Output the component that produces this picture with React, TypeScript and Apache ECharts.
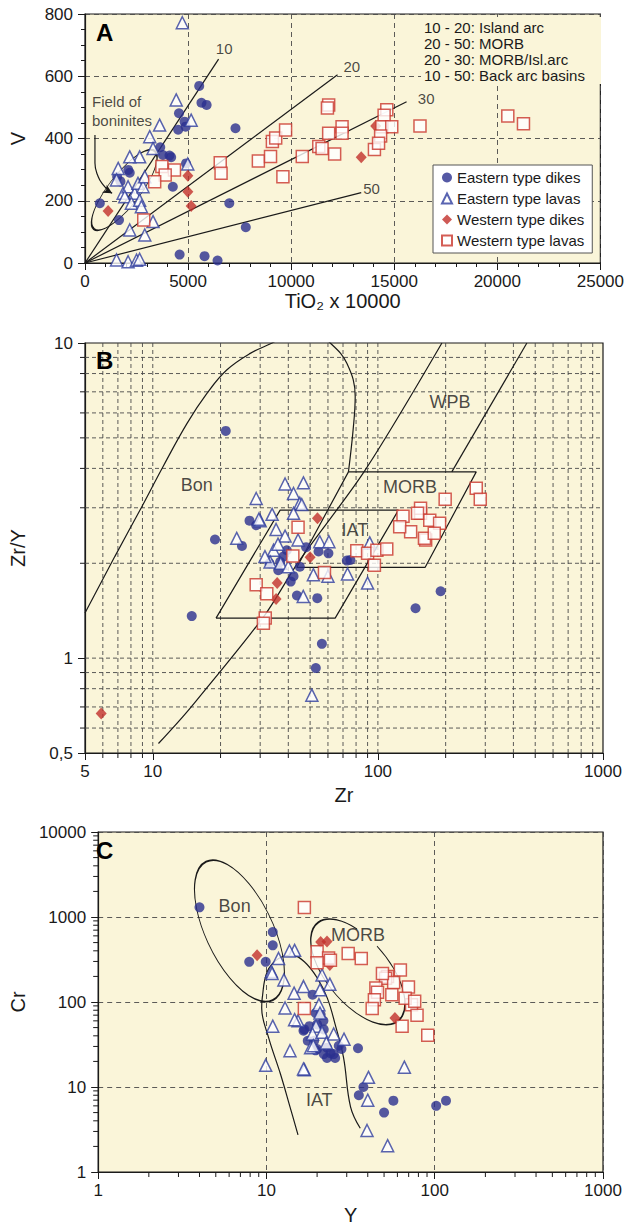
import React, { useEffect, useRef } from "react";
import * as echarts from "echarts";

const FONT = '"Liberation Sans", Arial, Helvetica, sans-serif';
const INK = "#1a1a1a";
const BG = "#faf5d9";
const NAVY = "#2b2f8f";
const BLUE = "#2f3d9e";
const RED = "#c2302a";
const RED_SQ = "#c9362c";

const SERIES_NAMES = ["Eastern type dikes", "Eastern type lavas", "Western type dikes", "Western type lavas"];

// ---------------- Panel A : V vs TiO2 x 10000 ----------------
const eastDikesA = [
  [5540, 569], [5650, 515], [5900, 508], [4560, 481], [4830, 454], [4880, 438], [4520, 428], [7300, 433],
  [3650, 372], [3780, 347], [4100, 345], [4180, 340], [4900, 320], [2100, 299], [2170, 290], [1560, 277],
  [1720, 262], [4260, 245], [720, 192], [1650, 138], [7000, 192], [7800, 115], [4590, 27], [5800, 22], [6430, 8],
];
const eastLavasA = [
  [4720, 772], [4425, 524], [5150, 459], [3620, 443], [3140, 406], [3300, 368], [2650, 341], [2170, 341],
  [4985, 318], [1610, 304], [1530, 267], [1850, 224], [2090, 245], [2410, 224], [2570, 256], [2815, 245],
  [2900, 277], [1930, 213], [2250, 192], [2650, 202], [2735, 181], [3300, 133], [2170, 106], [2900, 90],
  [1530, 10], [2090, 4], [2500, 9], [2650, 12],
];
const westDikesA = [[1120, 167], [4990, 280], [4990, 229], [5150, 183], [13400, 340], [14100, 440]];
const westLavasA = [
  [2850, 138], [3730, 310], [4340, 299], [3890, 283], [3380, 261], [6560, 322], [6600, 288], [8410, 328],
  [9000, 342], [9090, 390], [9250, 402], [9730, 427], [9600, 277], [10540, 342], [11340, 374], [11820, 508],
  [11760, 498], [11820, 417], [12470, 438], [12470, 417], [11500, 368], [12110, 350], [14640, 492], [14510, 475],
  [14400, 438], [14880, 438], [14340, 408], [14040, 365], [14240, 385], [16250, 440], [20510, 472], [21270, 447],
];
const ratioLabelsA = ["10", "20", "30", "50"];
const ratioEndsA = [[6480, 655], [12250, 605], [15600, 518], [13400, 226]];
const ratioLabelPosA = [[6750, 690], [12940, 630], [16550, 530], [13900, 240]];
const boniniteEllipseA = [434, 109, 3378, 360, 0.32, 0, Math.PI * 2];
const boniniteArrowA = [[483, 411], [483, 321], [642, 277], [883, 251], [1206, 229], [1318, 224]];
const fieldLabelPosA = [338, 487];
const notesA = ["10 - 20: Island arc", "20 - 50: MORB", "20 - 30: MORB/Isl.arc", "10 - 50: Back arc basins"];

// ---------------- Panel B : Zr/Y vs Zr ----------------
const eastDikesB = [
  [21.1, 5.26], [18.9, 2.38], [14.9, 1.36], [26.9, 2.73], [28.8, 2.64], [24.9, 2.27], [36.1, 1.9], [42.2, 1.82],
  [43.7, 1.58], [53.8, 1.55], [56.4, 1.11], [53, 0.93], [147, 1.44], [190, 1.63], [60.3, 2.15], [54.5, 2.18],
  [72.8, 2.04], [75.5, 2.05], [36.8, 2.02], [38, 2.1], [45, 1.95], [39.4, 2.2], [48, 2.25], [41, 1.75], [33, 2.0],
];
const eastLavasB = [
  [38.7, 3.57], [46.7, 3.6], [42.2, 3.33], [28.8, 3.21], [45, 3.1], [33.9, 2.86], [30, 2.73], [23.6, 2.4],
  [29.6, 2.76], [35.3, 2.56], [38.7, 2.44], [42.2, 2.88], [45.9, 3.07], [34.4, 2.2], [33.2, 2.02], [44.2, 2.37],
  [55.2, 2.34], [60.6, 2.34], [51.7, 1.84], [60, 1.82], [73.3, 1.85], [90, 1.73], [92, 2.32], [46.6, 1.57],
  [50.9, 0.763], [37, 2.0], [40, 1.95], [31.5, 2.1], [36, 2.3],
];
const westDikesB = [[53.9, 2.78], [50, 2.09], [35.7, 1.73], [35.3, 1.54], [5.9, 0.667]];
const westLavasB = [
  [44.2, 2.6], [41.9, 2.11], [57.9, 1.87], [28.8, 1.71], [32.1, 1.6], [31.6, 1.34], [31, 1.29], [80.6, 2.19],
  [90, 2.15], [99, 2.2], [109.5, 2.22], [96.5, 1.97], [129.3, 2.82], [154.7, 2.88], [139.8, 2.52], [163, 2.37],
  [273.5, 3.46], [285, 3.19], [199, 3.19], [154.7, 2.99], [170, 2.74], [188, 2.68], [161, 2.4], [178, 2.49],
  [150, 2.88], [125, 2.61],
];
const iatFieldB = [[19.1, 1.34], [64.6, 1.34], [123.4, 2.95], [36.8, 2.95], [19.1, 1.34]];
const morbFieldB = [[43.6, 1.94], [162, 1.94], [273.5, 3.9], [74, 3.9], [43.6, 1.94]];
const wpbRightB = [[213, 3.9], [459, 10]];
const wpbLeftB = [[10.6, 0.536], [14.6, 0.692], [31, 1.35], [44.4, 2.02], [87.8, 3.95], [192.5, 10]];
const bonCurveB = [
  [5, 1.39], [6.78, 2.1], [8.78, 2.95], [11.1, 4.05], [14.2, 5.56], [17.4, 6.92], [21.3, 8.21], [27.1, 9.27],
  [33.9, 10], [42, 10.8], [52, 10.8], [61.4, 10], [72.8, 8.62], [79.3, 6.76], [77.6, 5.29], [74, 3.9],
];
const fieldNamesB = ["Bon", "WPB", "MORB", "IAT"];
const fieldPosB = [[15.7, 3.54], [209, 6.5], [139, 3.5], [79, 2.55]];
const GRID_B_X = [6, 7, 8, 9, 10, 20, 30, 40, 50, 60, 70, 80, 90, 100, 200, 300, 400, 500, 600, 700, 800, 900];
const MINOR_B_X = [6, 7, 8, 9, 20, 30, 40, 50, 60, 70, 80, 90, 200, 300, 400, 500, 600, 700, 800, 900];
const GRID_B_Y = [0.6, 0.7, 0.8, 0.9, 1, 2, 3, 4, 5, 6, 7, 8, 9];
const MINOR_B_Y = [0.6, 0.7, 0.8, 0.9, 2, 3, 4, 5, 6, 7, 8, 9];

// ---------------- Panel C : Cr vs Y ----------------
const eastDikesC = [
  [4.0, 1300], [10.9, 664], [10.9, 464], [7.9, 297], [9.9, 297], [18.8, 122], [21, 71], [19.6, 74], [21.8, 60],
  [16.6, 46], [17.6, 35], [19.6, 27], [22.9, 22], [25.6, 22], [27.9, 28], [22.9, 29], [35, 28.6], [37.7, 10],
  [35.4, 8], [50, 5], [56.8, 6.9], [102, 6], [116.7, 6.9], [16.8, 47.6], [20, 54.5], [21.9, 47.6], [19.2, 34.9],
  [25.1, 24.4], [26.9, 30.6], [20, 28], [21.9, 24.4], [24, 25], [18, 52],
];
const eastLavasC = [
  [14.7, 405], [13.7, 398], [11.8, 325], [10.7, 228], [10.8, 217], [12.7, 182], [14.6, 127], [16.6, 152],
  [21.4, 208], [23.8, 162], [20.8, 139], [12.9, 85], [10.9, 52], [20.5, 93], [20.8, 74], [15.4, 60], [14.7, 62],
  [19.7, 52], [18.8, 42], [21.4, 44], [25.1, 42], [22.7, 33], [28.9, 36.5], [18.3, 29], [13.8, 26.7], [9.9, 18],
  [16.8, 16], [16.6, 16.3], [40.4, 13], [66, 17.1], [40, 7], [39.6, 3.08], [52.5, 2.04], [19, 30.6],
];
const westDikesC = [[8.8, 355], [21, 508], [22.9, 516], [23.8, 272], [58, 65]];
const westLavasC = [
  [16.8, 1297], [16.8, 83.6], [20, 389], [23.4, 330], [20, 290], [24, 310], [30.6, 372], [36.6, 325], [62.5, 238],
  [52.4, 199], [51, 190], [44.7, 146], [57, 170], [69.8, 150], [45.7, 130], [55.6, 122], [43.8, 106], [72.8, 93],
  [42.5, 84], [78.5, 70], [64, 52], [90.9, 40.5], [48.9, 217], [66.7, 111], [76, 102],
];
const iatCurveC = [
  [15.4, 2.74], [13.8, 5.85], [12.1, 14.3], [10.3, 38.1], [9.37, 85.1], [9.44, 111], [10.1, 227], [11.8, 325],
  [14.1, 355], [16.8, 297], [20.1, 190], [23, 111], [25.6, 54.5], [28.7, 22.3], [31.6, 5.85], [36.1, 3.27],
];
const bonEllipseC = [4.38, 4488, 10.9, 105, 0.436, 0, Math.PI * 2];
const morbEllipseC = [20.1, 851, 60.7, 60.1, 0.495, 4.59, 10.44];
const fieldNamesC = ["Bon", "MORB", "IAT"];
const fieldPosC = [[6.47, 1350], [35, 606], [20.6, 7]];
const MINOR_C_X = [2, 3, 4, 5, 6, 7, 8, 9, 20, 30, 40, 50, 60, 70, 80, 90, 200, 300, 400, 500, 600, 700, 800, 900];
const MINOR_C_Y = [
  2, 3, 4, 5, 6, 7, 8, 9, 20, 30, 40, 50, 60, 70, 80, 90, 200, 300, 400, 500, 600, 700, 800, 900,
  2000, 3000, 4000, 5000, 6000, 7000, 8000, 9000,
];

// ---------------- helpers ----------------
const GRID_STYLE = { stroke: "#4a4a4a", lineWidth: 0.9, lineDash: [4, 3], fill: "none" };
const TICK_STYLE = { stroke: INK, lineWidth: 1, fill: "none" };

const makeTickRender = (xr: number[], yr: number[]) => (params: any, api: any) => {
  const lo = api.coord([xr[0], yr[0]]);
  const hi = api.coord([xr[1], yr[1]]);
  const dir = api.value(2);
  const grid = api.value(3);
  const len = api.value(4);
  const children: any[] = [];
  if (dir === 0) {
    const x = api.coord([api.value(0), yr[0]])[0];
    if (grid) children.push({ type: "line", shape: { x1: x, y1: lo[1], x2: x, y2: hi[1] }, style: GRID_STYLE });
    if (len) children.push({ type: "line", shape: { x1: x, y1: lo[1], x2: x, y2: lo[1] + len }, style: TICK_STYLE });
  } else {
    const y = api.coord([xr[0], api.value(1)])[1];
    if (grid) children.push({ type: "line", shape: { x1: lo[0], y1: y, x2: hi[0], y2: y }, style: GRID_STYLE });
    if (len) children.push({ type: "line", shape: { x1: lo[0] - len, y1: y, x2: lo[0], y2: y }, style: TICK_STYLE });
  }
  return { type: "group", children };
};

const renderEllipse = (params: any, api: any) => {
  const p1 = api.coord([api.value(0), api.value(1)]);
  const p2 = api.coord([api.value(2), api.value(3)]);
  const dx = p2[0] - p1[0];
  const dy = p2[1] - p1[1];
  const r = Math.sqrt(dx * dx + dy * dy) / 2;
  return {
    type: "arc",
    x: (p1[0] + p2[0]) / 2,
    y: (p1[1] + p2[1]) / 2,
    rotation: -Math.atan2(dy, dx),
    scaleX: 1,
    scaleY: api.value(4),
    shape: { cx: 0, cy: 0, r, startAngle: api.value(5), endAngle: api.value(6), clockwise: true },
    style: { stroke: INK, fill: "none", lineWidth: 1.25, strokeNoScale: true },
  };
};

const markerStyles: any[] = [
  { symbol: "circle", symbolSize: 10, itemStyle: { color: NAVY } },
  { symbol: "triangle", symbolSize: 12, itemStyle: { color: "#ffffff", borderColor: BLUE, borderWidth: 1.5 } },
  { symbol: "diamond", symbolSize: [11, 12], itemStyle: { color: RED } },
  { symbol: "rect", symbolSize: 12, itemStyle: { color: "#ffffff", borderColor: RED_SQ, borderWidth: 1.5 } },
];

function markers(gi: number, sets: number[][][]) {
  return sets.map((d, i) => ({
    type: "scatter",
    name: SERIES_NAMES[i],
    xAxisIndex: gi,
    yAxisIndex: gi,
    data: d,
    z: 4 + i,
    silent: true,
    ...markerStyles[i],
  }));
}

function curve(gi: number, data: any[], smooth: number | boolean = false) {
  return {
    type: "line",
    xAxisIndex: gi,
    yAxisIndex: gi,
    data,
    smooth,
    symbol: "none",
    silent: true,
    z: 3,
    lineStyle: { color: INK, width: 1.2 },
  };
}

function labels(gi: number, names: string[], pos: number[][], fontSize: number, align = "center") {
  return {
    type: "scatter",
    xAxisIndex: gi,
    yAxisIndex: gi,
    symbolSize: 0,
    silent: true,
    z: 8,
    itemStyle: { color: "transparent" },
    data: names.map((n, i) => ({ name: n, value: pos[i] })),
    label: {
      show: true,
      formatter: "{b}",
      position: "inside",
      align,
      color: INK,
      fontSize,
      fontFamily: FONT,
      lineHeight: 19,
    },
  };
}

const plainNum = (v: number) => String(Math.round(v * 1000) / 1000);

const axisCommon: any = {
  nameLocation: "middle",
  axisLine: { show: true, lineStyle: { color: INK, width: 1.2 } },
  axisTick: { show: true, inside: false, length: 7, lineStyle: { color: INK, width: 1 } },
  axisLabel: { color: INK, fontSize: 17, fontFamily: FONT, formatter: plainNum },
  nameTextStyle: { color: INK, fontSize: 20, fontFamily: FONT },
};
const dashedSplit = { show: true, lineStyle: { type: [5, 4], color: "#4a4a4a", width: 0.9 } };

export default function App() {
  const ref = useRef<HTMLDivElement>(null);
  useEffect(() => {
    if (!ref.current) return;
    const chart = echarts.init(ref.current, undefined, { renderer: "svg" });
    const ticksB = [
      ...GRID_B_X.map((v) => [v, 0.5, 0, 1, MINOR_B_X.includes(v) ? 5 : 0]),
      ...GRID_B_Y.map((v) => [5, v, 1, 1, MINOR_B_Y.includes(v) ? 5 : 0]),
    ];
    const ticksC = [...MINOR_C_X.map((v) => [v, 1, 0, 0, 5]), ...MINOR_C_Y.map((v) => [1, v, 1, 0, 5])];
    const arrowTip = boniniteArrowA[boniniteArrowA.length - 1];

    const option: any = {
      animation: false,
      textStyle: { fontFamily: FONT },
      grid: [
        { left: 85, top: 14, width: 518, height: 249, show: true, backgroundColor: BG, borderColor: INK, borderWidth: 1.2 },
        { left: 85, top: 343, width: 518, height: 410, show: true, backgroundColor: BG, borderColor: INK, borderWidth: 1.2 },
        { left: 85, top: 832, width: 518, height: 344, show: true, backgroundColor: BG, borderColor: INK, borderWidth: 1.2 },
      ],
      xAxis: [
        {
          ...axisCommon, gridIndex: 0, type: "value", min: 0, max: 25000, interval: 5000,
          axisLabel: { ...axisCommon.axisLabel, margin: 10 },
          minorTick: { show: true, splitNumber: 5, length: 4, lineStyle: { color: INK } },
          splitLine: dashedSplit, name: "TiO₂ x 10000", nameGap: 26,
        },
        {
          ...axisCommon, gridIndex: 1, type: "log", logBase: 10, min: 5, max: 1000,
          axisLabel: { ...axisCommon.axisLabel, margin: 10 },
          splitLine: { show: false }, name: "Zr", nameGap: 32,
        },
        {
          ...axisCommon, gridIndex: 2, type: "log", logBase: 10, min: 1, max: 1000,
          axisLabel: { ...axisCommon.axisLabel, margin: 10 },
          splitLine: dashedSplit, name: "Y", nameGap: 33,
        },
      ],
      yAxis: [
        {
          ...axisCommon, gridIndex: 0, type: "value", min: 0, max: 800, interval: 200,
          axisLabel: { ...axisCommon.axisLabel, margin: 12 },
          minorTick: { show: true, splitNumber: 4, length: 4, lineStyle: { color: INK } },
          splitLine: dashedSplit, name: "V", nameGap: 57,
        },
        {
          ...axisCommon, gridIndex: 1, type: "log", logBase: 10, min: 0.5, max: 10,
          axisLabel: {
            ...axisCommon.axisLabel, margin: 12,
            formatter: (v: number) => String(Math.round(v * 100) / 100).replace(".", ","),
          },
          splitLine: { show: false }, name: "Zr/Y", nameGap: 57,
        },
        {
          ...axisCommon, gridIndex: 2, type: "log", logBase: 10, min: 1, max: 10000,
          axisLabel: { ...axisCommon.axisLabel, margin: 12 },
          splitLine: dashedSplit, name: "Cr", nameGap: 57,
        },
      ],
      legend: {
        data: SERIES_NAMES,
        orient: "vertical",
        left: 433,
        top: 165,
        selectedMode: false,
        backgroundColor: "#ffffff",
        borderColor: "#555555",
        borderWidth: 1,
        borderRadius: 0,
        padding: [4, 8, 4, 8],
        itemGap: 4,
        itemWidth: 10,
        itemHeight: 10,
        itemTextGap: 5,
        textStyle: { fontSize: 15, color: INK, fontFamily: FONT, lineHeight: 17 },
      },
      graphic: [
        { type: "text", left: 96, top: 20, z: 20, style: { text: "A", fontSize: 24, fontWeight: "bold", fontFamily: FONT, fill: "#000" } },
        { type: "text", left: 96, top: 348, z: 20, style: { text: "B", fontSize: 24, fontWeight: "bold", fontFamily: FONT, fill: "#000" } },
        { type: "text", left: 96, top: 838, z: 20, style: { text: "C", fontSize: 24, fontWeight: "bold", fontFamily: FONT, fill: "#000" } },
        {
          type: "rect", left: 421, top: 17, z: 19, silent: true,
          shape: { width: 180, height: 67 }, style: { fill: BG },
        },
        {
          type: "text", left: 424, top: 19, z: 20,
          style: { text: notesA.join("\n"), fontSize: 15, lineHeight: 16, fontFamily: FONT, fill: INK },
        },
      ],
      series: [
        // Panel A
        {
          type: "custom", xAxisIndex: 0, yAxisIndex: 0, renderItem: renderEllipse, silent: true, z: 3,
          data: [boniniteEllipseA],
        },
        ...ratioEndsA.map((e) => curve(0, [[0, 0], e])),
        {
          ...curve(0, [
            ...boniniteArrowA.slice(0, -1),
            { value: arrowTip, symbol: "arrow", symbolSize: [7, 9], symbolRotate: -120 },
          ], 0.5),
          symbol: "circle",
          symbolSize: 0,
          showSymbol: true,
          itemStyle: { color: INK },
        },
        labels(0, ratioLabelsA, ratioLabelPosA, 15),
        labels(0, ["Field of\nboninites"], [fieldLabelPosA], 15, "left"),
        ...markers(0, [eastDikesA, eastLavasA, westDikesA, westLavasA]),
        // Panel B
        {
          type: "custom", xAxisIndex: 1, yAxisIndex: 1, renderItem: makeTickRender([5, 1000], [0.5, 10]),
          silent: true, z: 1, data: ticksB,
        },
        curve(1, iatFieldB),
        curve(1, morbFieldB),
        curve(1, wpbRightB),
        curve(1, wpbLeftB, 0.3),
        curve(1, bonCurveB, 0.4),
        labels(1, fieldNamesB, fieldPosB, 18),
        ...markers(1, [eastDikesB, eastLavasB, westDikesB, westLavasB]),
        // Panel C
        {
          type: "custom", xAxisIndex: 2, yAxisIndex: 2, renderItem: makeTickRender([1, 1000], [1, 10000]),
          silent: true, z: 1, data: ticksC,
        },
        {
          type: "custom", xAxisIndex: 2, yAxisIndex: 2, renderItem: renderEllipse, silent: true, z: 3,
          data: [bonEllipseC, morbEllipseC],
        },
        curve(2, iatCurveC, 0.4),
        labels(2, fieldNamesC, fieldPosC, 18),
        ...markers(2, [eastDikesC, eastLavasC, westDikesC, westLavasC]),
      ],
    };
    chart.setOption(option);
    return () => chart.dispose();
  }, []);
  return <div ref={ref} style={{ position: "absolute", left: 0, top: 0, width: 627, height: 1226 }} />;
}
